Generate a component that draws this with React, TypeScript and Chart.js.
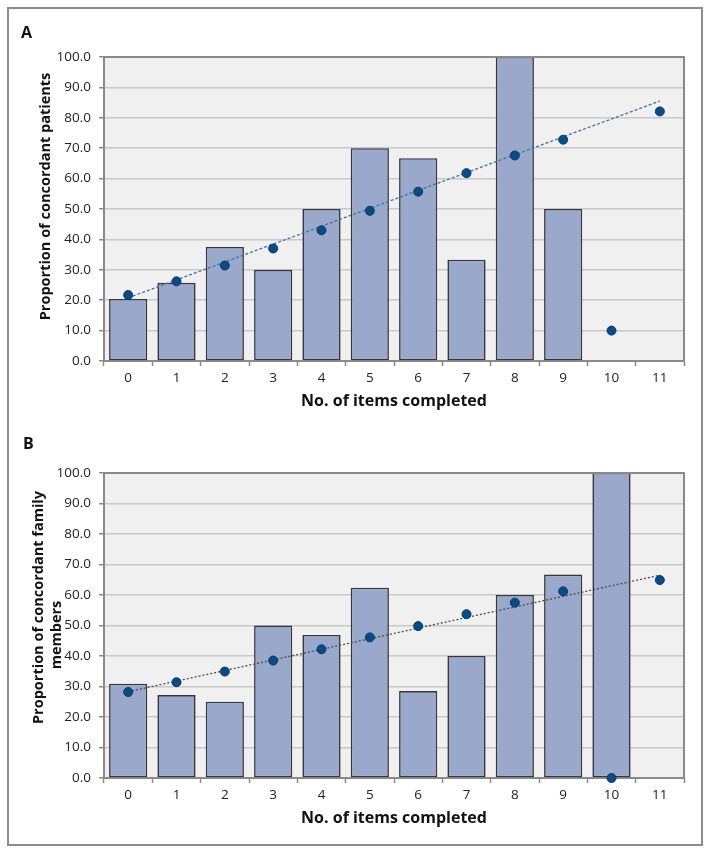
import React, { useEffect, useRef } from "react";
import { Chart, registerables } from "chart.js";

Chart.register(...registerables);

const categories = ["0", "1", "2", "3", "4", "5", "6", "7", "8", "9", "10", "11"];
const yTicks = [0, 10, 20, 30, 40, 50, 60, 70, 80, 90, 100];

const barsA = [20.4, 25.7, 37.5, 30.0, 50.0, 70.0, 66.7, 33.3, 100.0, 50.0, 0, 0];
const pointsA = [21.7, 26.2, 31.4, 37.0, 43.0, 49.4, 55.7, 61.8, 67.6, 72.8, 10.0, 82.1];
const trendA = [20.8, 85.5];

const barsB = [30.9, 27.2, 25.0, 50.0, 46.9, 62.4, 28.5, 40.0, 60.0, 66.7, 100.0, 0];
const pointsB = [28.2, 31.4, 34.9, 38.5, 42.2, 46.1, 49.8, 53.7, 57.5, 61.2, 0, 64.9];
const trendB = [28.3, 66.5];

const FONT = "'Open Sans', 'Noto Sans', sans-serif";

type PanelProps = {
  letter: string;
  bars: number[];
  points: number[];
  trend: number[];
  trendColor: string;
  trendDash: number[];
  yTitle: string[];
  top: number;
  height: number;
  padTop: number;
  xAxisHeight: number;
  letterPos: [number, number];
  yTitlePos: [number, number][];
  xTitleY: number;
};

function Panel(p: PanelProps) {
  const ref = useRef<HTMLCanvasElement | null>(null);
  useEffect(() => {
    if (!ref.current) return;
    const textPlugin = {
      id: "decor",
      beforeDraw(chart: any) {
        const { ctx, chartArea } = chart;
        ctx.save();
        ctx.fillStyle = "#f0f0f0";
        ctx.fillRect(chartArea.left, chartArea.top, chartArea.right - chartArea.left, chartArea.bottom - chartArea.top);
        ctx.restore();
      },
      afterDraw(chart: any) {
        const { ctx, chartArea } = chart;
        ctx.save();
        ctx.strokeStyle = "#8a8a8a";
        ctx.lineWidth = 2;
        ctx.beginPath();
        ctx.moveTo(chartArea.left, chartArea.top);
        ctx.lineTo(chartArea.right, chartArea.top);
        ctx.lineTo(chartArea.right, chartArea.bottom);
        ctx.stroke();
        ctx.fillStyle = "#111";
        ctx.textBaseline = "middle";
        ctx.textAlign = "left";
        ctx.font = `bold 16px ${FONT}`;
        ctx.fillText(p.letter, p.letterPos[0], p.letterPos[1]);
        ctx.textAlign = "center";
        ctx.font = `bold 16px ${FONT}`;
        ctx.fillText("No. of items completed", (chartArea.left + chartArea.right) / 2, p.xTitleY);
        ctx.font = `bold 14.5px ${FONT}`;
        p.yTitle.forEach((t, i) => {
          ctx.save();
          ctx.translate(p.yTitlePos[i][0], p.yTitlePos[i][1]);
          ctx.rotate(-Math.PI / 2);
          ctx.fillText(t, 0, 0);
          ctx.restore();
        });
        ctx.restore();
      },
    };
    const chart = new Chart(ref.current, {
      type: "bar",
      data: {
        labels: categories,
        datasets: [
          {
            type: "line",
            data: p.points,
            showLine: false,
            pointRadius: 4.5,
            pointBackgroundColor: "#0b4a85",
            pointBorderColor: "#083a6a",
            pointBorderWidth: 1,
            clip: false,
            order: 1,
          } as any,
          {
            type: "line",
            data: [
              { x: categories[0], y: p.trend[0] },
              { x: categories[categories.length - 1], y: p.trend[1] },
            ],
            borderColor: p.trendColor,
            borderWidth: 1.3,
            borderDash: p.trendDash,
            pointRadius: 0,
            order: 2,
          } as any,
          {
            type: "bar",
            data: p.bars,
            backgroundColor: "#9aa8cb",
            borderColor: "#35353f",
            borderWidth: 1.6,
            borderSkipped: false,
            barPercentage: 0.79,
            categoryPercentage: 1,
            order: 3,
          } as any,
        ],
      },
      options: {
        animation: false,
        responsive: false,
        maintainAspectRatio: false,
        layout: { padding: { left: 0, right: 17, top: p.padTop, bottom: 0 } },
        plugins: { legend: { display: false }, tooltip: { enabled: false } },
        scales: {
          x: {
            type: "category",
            offset: true,
            grid: {
              offset: true,
              drawOnChartArea: false,
              drawTicks: true,
              tickLength: 5,
              tickColor: "#8a8a8a",
              tickWidth: 1.5,
            },
            border: { display: true, color: "#8a8a8a", width: 2 },
            ticks: { color: "#222", font: { family: FONT, size: 13.5 }, padding: 4 },
            afterFit: (s: any) => {
              s.height = p.xAxisHeight;
            },
          },
          y: {
            min: 0,
            max: 100,
            afterBuildTicks: (s: any) => {
              s.ticks = yTicks.map((v) => ({ value: v }));
            },
            grid: {
              color: "#c8c8c8",
              lineWidth: 1.5,
              tickLength: 5,
              tickColor: "#8a8a8a",
            },
            border: { display: true, color: "#8a8a8a", width: 2 },
            ticks: {
              color: "#222",
              font: { family: FONT, size: 13.5 },
              padding: 8,
              callback: (v: any) => Number(v).toFixed(1),
            },
            afterFit: (s: any) => {
              s.width = 95;
            },
          },
        },
      },
      plugins: [textPlugin],
    } as any);
    return () => chart.destroy();
  }, []);
  return (
    <canvas
      ref={ref}
      width={692}
      height={p.height}
      style={{ position: "absolute", left: 0, top: p.top, width: 692, height: p.height }}
    />
  );
}

export default function App() {
  return (
    <div
      style={{
        position: "absolute",
        left: 7,
        top: 7,
        width: 696,
        height: 839,
        border: "2px solid #8c8c8c",
        boxSizing: "border-box",
        background: "#fff",
      }}
    >
      <Panel
        letter="A"
        bars={barsA}
        points={pointsA}
        trend={trendA}
        trendColor="#3f72a6"
        trendDash={[3, 2]}
        yTitle={["Proportion of concordant patients"]}
        top={0}
        height={420}
        padTop={48}
        xAxisHeight={68}
        letterPos={[12, 24]}
        yTitlePos={[[37, 187.5]]}
        xTitleY={392}
      />
      <Panel
        letter="B"
        bars={barsB}
        points={pointsB}
        trend={trendB}
        trendColor="#4a4a4a"
        trendDash={[2, 2]}
        yTitle={["Proportion of concordant family", "members"]}
        top={420}
        height={415}
        padTop={44}
        xAxisHeight={66}
        letterPos={[14, 15]}
        yTitlePos={[
          [30, 178.5],
          [48, 206],
        ]}
        xTitleY={389}
      />
    </div>
  );
}
